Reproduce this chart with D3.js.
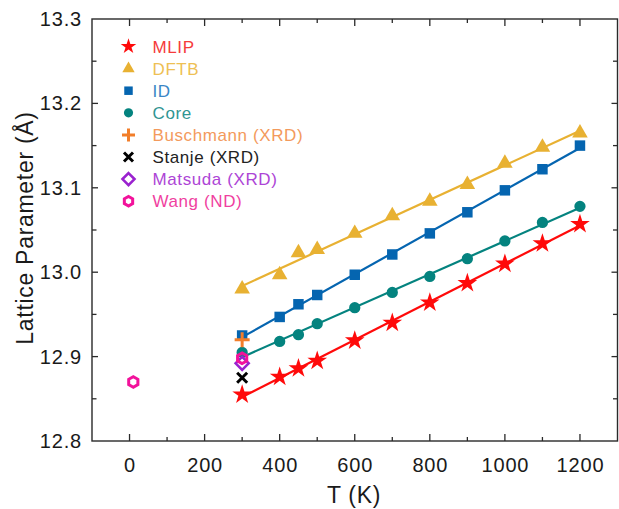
<!DOCTYPE html>
<html>
<head>
<meta charset="utf-8">
<script src="https://cdn.jsdelivr.net/npm/d3@7"></script>
<style>
  html, body { margin: 0; padding: 0; background: #fff; }
  svg text { font-family: Arial, "Liberation Sans", sans-serif; }
</style>
</head>
<body>
<svg id="chart" width="619" height="509"></svg>
<script>
// Lattice parameter vs temperature for the simulated models and experiments
const temps = [300, 400, 450, 500, 600, 700, 800, 900, 1000, 1100, 1200];
const mlip  = [12.855, 12.876, 12.886, 12.895, 12.919, 12.940, 12.964, 12.987, 13.010, 13.034, 13.057];
const dftb  = [12.980, 12.997, 13.023, 13.027, 13.046, 13.067, 13.084, 13.104, 13.129, 13.148, 13.165];
const idv   = [12.925, 12.947, 12.962, 12.973, 12.997, 13.021, 13.046, 13.071, 13.097, 13.122, 13.150];
const core  = [12.905, 12.918, 12.926, 12.939, 12.958, 12.976, 12.995, 13.016, 13.037, 13.059, 13.078];

const buschmannT = [300], buschmannA = [12.920];
const stanjeT = [300],    stanjeA = [12.875];
const matsudaT = [300],   matsudaA = [12.892];
const wangT = [10, 300],  wangA = [12.870, 12.898];

const xTicks = [0, 200, 400, 600, 800, 1000, 1200];
const yTicks = [12.8, 12.9, 13.0, 13.1, 13.2, 13.3];
const legendLabels = ["MLIP", "DFTB", "ID", "Core", "Buschmann (XRD)", "Stanje (XRD)", "Matsuda (XRD)", "Wang (ND)"];

const C = {
  mlip: "#ff0a0a", dftb: "#e8b132", id: "#0565b0", core: "#04837f",
  busch: "#f27e2a", stanje: "#000000", matsuda: "#9a22cf", wang: "#f2129b"
};
const textC = ["#f53b3b", "#eec054", "#3a86c6", "#2f9592", "#f39a5c", "#222222", "#ad45d6", "#f03f9f"];

const svg = d3.select("#chart");
const L = 92, R = 617.5, T = 19, B = 441;
const x = d3.scaleLinear().domain([-100, 1300]).range([L, R]);
const y = d3.scaleLinear().domain([12.8, 13.3]).range([B, T]);
const frame = "#2a2a2a";

// ---- axes (ticks point inward on all four sides) ----
const minorX = d3.range(-100, 1301, 100);
const minorY = d3.range(12.8, 13.301, 0.05).map(v => +v.toFixed(2));
const isMajorX = v => v % 200 === 0;
const isMajorY = v => Math.abs(Math.round(v * 10) - v * 10) < 1e-6;

const g = svg.append("g");
minorX.forEach(v => {
  const len = isMajorX(v) ? 7 : 4;
  if (v <= -100 || v >= 1300) return;
  g.append("line").attr("x1", x(v)).attr("x2", x(v)).attr("y1", B).attr("y2", B - len)
    .attr("stroke", frame).attr("stroke-width", 1.3);
  g.append("line").attr("x1", x(v)).attr("x2", x(v)).attr("y1", T).attr("y2", T + len)
    .attr("stroke", frame).attr("stroke-width", 1.3);
});
minorY.forEach(v => {
  const len = isMajorY(v) ? 6 : 4.5;
  if (v <= 12.8 || v >= 13.3) return;
  g.append("line").attr("x1", L).attr("x2", L + len).attr("y1", y(v)).attr("y2", y(v))
    .attr("stroke", frame).attr("stroke-width", 1.3);
  g.append("line").attr("x1", R).attr("x2", R - len).attr("y1", y(v)).attr("y2", y(v))
    .attr("stroke", frame).attr("stroke-width", 1.3);
});
g.append("rect").attr("x", L).attr("y", T).attr("width", R - L).attr("height", B - T)
  .attr("fill", "none").attr("stroke", frame).attr("stroke-width", 1.4);

// tick labels through the d3 axis generators
const xAxis = svg.append("g").attr("transform", `translate(0,${B})`)
  .call(d3.axisBottom(x).tickValues(xTicks).tickSize(0).tickPadding(17).tickFormat(d3.format("d")));
xAxis.select(".domain").remove();
xAxis.selectAll("text").attr("font-size", 20).attr("fill", "#1a1a1a").attr("letter-spacing", 0.8)
  .attr("font-family", "Arial, 'Liberation Sans', sans-serif");

const yAxis = svg.append("g").attr("transform", `translate(${L},0)`)
  .call(d3.axisLeft(y).tickValues(yTicks).tickSize(0).tickPadding(10).tickFormat(d3.format(".1f")));
yAxis.select(".domain").remove();
yAxis.selectAll("text").attr("font-size", 20).attr("fill", "#1a1a1a").attr("letter-spacing", 0.8)
  .attr("font-family", "Arial, 'Liberation Sans', sans-serif");

// axis titles
svg.append("text").attr("x", 354).attr("y", 503).attr("text-anchor", "middle")
  .attr("font-size", 23).attr("letter-spacing", 0.7).attr("fill", "#1a1a1a").text("T (K)");
svg.append("text").attr("transform", `translate(33,${(T + B) / 2 - 2}) rotate(-90)`)
  .attr("text-anchor", "middle").attr("font-size", 23).attr("letter-spacing", 0.7)
  .attr("fill", "#1a1a1a").text("Lattice Parameter (Å)");

// ---- fitted lines ----
function fit(xs, ys) {
  const mx = d3.mean(xs), my = d3.mean(ys);
  const sxy = d3.sum(xs, (v, i) => (v - mx) * (ys[i] - my));
  const sxx = d3.sum(xs, v => (v - mx) * (v - mx));
  const b = sxy / sxx, a = my - b * mx;
  return t => a + b * t;
}
const plot = svg.append("g");
const series = [
  { vals: dftb, color: C.dftb, sym: d3.symbolTriangle, size: 105 },
  { vals: idv,  color: C.id,   sym: d3.symbolSquare,   size: 110 },
  { vals: core, color: C.core, sym: d3.symbolCircle,   size: 100 },
  { vals: mlip, color: C.mlip, sym: d3.symbolStar,     size: 120 }
];
const lineGen = d3.line().x(d => x(d[0])).y(d => y(d[1]));
series.forEach(s => {
  const f = fit(temps, s.vals);
  const ends = [temps[0], temps[temps.length - 1]].map(t => [t, f(t)]);
  plot.append("path").attr("d", lineGen(ends)).attr("fill", "none")
    .attr("stroke", s.color).attr("stroke-width", 2.2);
});
series.forEach(s => {
  plot.selectAll(null).data(temps.map((t, i) => [t, s.vals[i]])).enter().append("path")
    .attr("transform", d => `translate(${x(d[0])},${y(d[1])})`)
    .attr("d", d3.symbol().type(s.sym).size(s.size)).attr("fill", s.color);
});

// ---- experimental markers ----
function plus(g, cx, cy, r, color) {
  g.append("path").attr("d", `M${cx - r},${cy}H${cx + r}M${cx},${cy - r}V${cy + r}`)
    .attr("stroke", color).attr("stroke-width", 3).attr("fill", "none");
}
function cross(g, cx, cy, r, color) {
  g.append("path").attr("d", `M${cx - r},${cy - r}L${cx + r},${cy + r}M${cx - r},${cy + r}L${cx + r},${cy - r}`)
    .attr("stroke", color).attr("stroke-width", 3).attr("fill", "none");
}
function diamond(g, cx, cy, r, color) {
  g.append("path").attr("d", `M${cx},${cy - r}L${cx + r},${cy}L${cx},${cy + r}L${cx - r},${cy}Z`)
    .attr("stroke", color).attr("stroke-width", 2.6).attr("fill", "none");
}
function hexagon(g, cx, cy, r, color) {
  const pts = d3.range(6).map(k => {
    const a = Math.PI / 2 + k * Math.PI / 3;
    return [cx + r * Math.cos(a), cy + r * Math.sin(a)];
  });
  g.append("path").attr("d", "M" + pts.join("L") + "Z")
    .attr("stroke", color).attr("stroke-width", 3).attr("fill", "none");
}
buschmannT.forEach((t, i) => plus(plot, x(t), y(buschmannA[i]), 7.5, C.busch));
stanjeT.forEach((t, i) => cross(plot, x(t), y(stanjeA[i]), 5, C.stanje));
matsudaT.forEach((t, i) => diamond(plot, x(t), y(matsudaA[i]), 6.5, C.matsuda));
wangT.forEach((t, i) => hexagon(plot, x(t), y(wangA[i]), 5.3, C.wang));

// ---- legend ----
const lg = svg.append("g");
const lx = 128.5, tx = 152.5, ly0 = 46.5, dy = 22.1;
const legendDraw = [
  (g, cx, cy) => g.append("path").attr("transform", `translate(${cx},${cy})`).attr("d", d3.symbol().type(d3.symbolStar).size(75)).attr("fill", C.mlip),
  (g, cx, cy) => g.append("path").attr("transform", `translate(${cx},${cy})`).attr("d", d3.symbol().type(d3.symbolTriangle).size(66)).attr("fill", C.dftb),
  (g, cx, cy) => g.append("path").attr("transform", `translate(${cx},${cy})`).attr("d", d3.symbol().type(d3.symbolSquare).size(72)).attr("fill", C.id),
  (g, cx, cy) => g.append("path").attr("transform", `translate(${cx},${cy})`).attr("d", d3.symbol().type(d3.symbolCircle).size(66)).attr("fill", C.core),
  (g, cx, cy) => plus(g, cx, cy, 6.5, C.busch),
  (g, cx, cy) => cross(g, cx, cy, 4.5, C.stanje),
  (g, cx, cy) => diamond(g, cx, cy, 6, C.matsuda),
  (g, cx, cy) => hexagon(g, cx, cy, 4.8, C.wang)
];
legendLabels.forEach((lab, i) => {
  const cy = ly0 + i * dy;
  legendDraw[i](lg, lx, cy);
  lg.append("text").attr("x", tx).attr("y", cy).attr("dy", "0.36em")
    .attr("font-size", 17).attr("letter-spacing", 0.6).attr("fill", textC[i]).text(lab);
});
</script>
</body>
</html>
